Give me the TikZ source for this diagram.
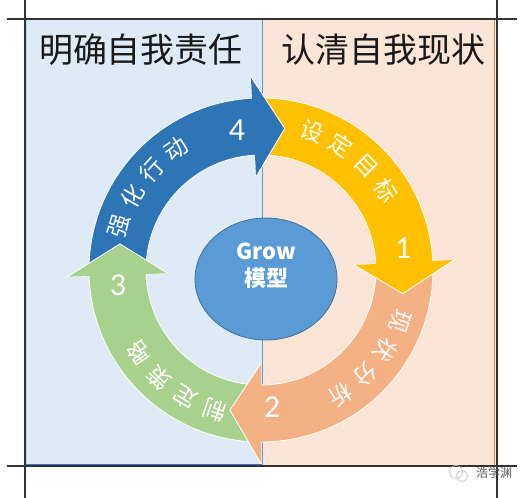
\documentclass[tikz,border=0pt]{standalone}
\usepackage{fontspec}
\setmainfont{Noto Sans CJK SC}
\newfontfamily\numfont{Carlito}
\usetikzlibrary{calc}
\definecolor{leftfill}{RGB}{222,235,247}
\definecolor{rightfill}{RGB}{251,229,214}
\definecolor{leftline}{RGB}{189,215,238}
\definecolor{leftdark}{RGB}{68,114,196}
\definecolor{rightline}{RGB}{237,125,49}
\definecolor{divider}{RGB}{91,155,213}
\definecolor{framegray}{RGB}{50,50,50}
\definecolor{ringyellow}{RGB}{255,192,0}
\definecolor{ringorange}{RGB}{244,177,131}
\definecolor{ringgreen}{RGB}{169,209,142}
\definecolor{ringblue}{RGB}{46,117,182}
\definecolor{growfill}{RGB}{91,155,213}
\definecolor{growline}{RGB}{65,113,156}
\definecolor{titlegray}{RGB}{25,25,25}
\definecolor{markgray}{RGB}{90,90,90}

\begin{document}
\begin{tikzpicture}[x=1pt,y=1pt,
  frame/.style={draw=framegray,line width=1.4pt},
  arrowpart/.style={fill=#1,draw=white,line width=0.8pt},
  title/.style={text=titlegray,font=\fontsize{34}{34}\selectfont,inner sep=0pt},
  steptext/.style={text=white,font=\fontsize{23}{23}\selectfont,inner sep=0pt},
  stepnum/.style={text=white,font=\numfont\fontsize{32}{32}\selectfont,inner sep=0pt},
  growtext/.style={text=white,font=\bfseries\fontsize{22}{22}\selectfont,inner sep=0pt}]
\useasboundingbox (0,0) rectangle (531,498);
% two panels
\fill[leftfill] (26,33) rectangle (262,478);
\fill[rightfill] (262,33) rectangle (494,478);
\draw[leftline,line width=0.8pt] (26,478) -- (26,33);
\draw[leftdark,line width=1pt] (26,33) -- (262,33);
\draw[rightline,line width=1pt] (262,478) -- (494,478) -- (494,33);
\draw[divider,line width=0.8pt] (262,478) -- (262,33);
% frame lines
\draw[frame] (7,479) -- (517,479);
\draw[frame] (7,32) -- (517,32);
\draw[frame] (25,0) -- (25,498);
\draw[frame] (497,0) -- (497,498);
\node[title] (lefttitle) at (141,448) {明确自我责任};
\node[title] (righttitle) at (383,448) {认清自我现状};
% cycle of four arrows
\begin{scope}[shift={(261,228)}]
\foreach \s/\b/\c in {90.5/3/ringyellow, 0.5/-90/ringorange, -92.5/-178/ringgreen, -180.5/-267/ringblue}
  \path[arrowpart=\c] (\s:172) arc[start angle=\s,end angle=\b,radius=172] -- (\b:193.5)
    -- ({\b-12.5}:143.5) -- (\b:93.5) -- (\b:115) arc[start angle=\b,end angle=\s,radius=115] -- cycle;
\foreach \b/\c in {3/ringyellow,-90/ringorange,-178/ringgreen,-267/ringblue}{
  \fill[\c] (\b:93.5) -- (\b:193.5) -- ({\b-12.5}:143.5) -- cycle;
  \draw[white,line width=0.8pt] (\b:193.5) -- ({\b-12.5}:143.5) -- (\b:93.5);
}
\foreach \a/\txt in {69.75/{设,定,目,标},-20.25/{现,状,分,析},-108.25/{制,定,策,略},162.75/{强,化,行,动}}
  \foreach \ch [count=\i] in \txt
    \node[steptext,rotate={\a-(\i-1)*12.5-90}] at ({\a-(\i-1)*12.5}:148) {\ch};
\end{scope}
\node[stepnum] (one) at (403,250) {1};
\node[stepnum] (two) at (272,91) {2};
\node[stepnum] (three) at (118,213) {3};
\node[stepnum] (four) at (237,368) {4};
% centre disc
\filldraw[fill=growfill,draw=growline,line width=0.8pt] (266,219) ellipse[x radius=71,y radius=61];
\node[growtext] (grow) at (266,247) {Grow};
\node[growtext] (model) at (266,220) {模型};
% watermark
\draw[markgray!40,line width=0.6pt] (456,26) circle (6.5) (462,22) circle (5.5);
\node[text=markgray,font=\fontsize{12}{12}\selectfont,inner sep=0pt] (mark) at (494,25) {浩学渊};
\end{tikzpicture}
\end{document}
